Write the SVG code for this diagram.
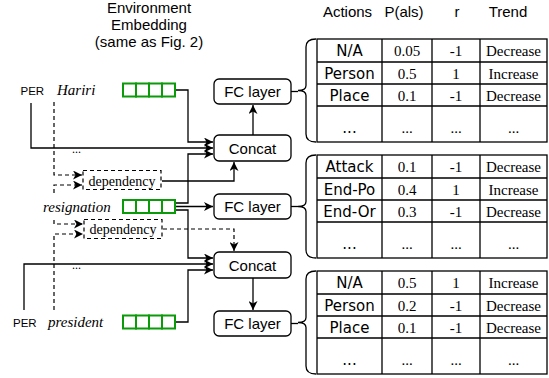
<svg xmlns="http://www.w3.org/2000/svg" width="549" height="378" viewBox="0 0 549 378">
<defs>
<marker id="arr" markerUnits="userSpaceOnUse" markerWidth="10" markerHeight="9" refX="9" refY="4.5" orient="auto">
<path d="M0,0 L9,4.5 L0,9 L2.5,4.5 z" fill="#000"/>
</marker>
<style>
.t{font-family:"Liberation Sans",Arial,sans-serif;font-size:15px;fill:#000}
.per{font-family:"Liberation Sans",Arial,sans-serif;font-size:11.5px;fill:#000}
.it{font-family:"Liberation Serif","Times New Roman",serif;font-style:italic;font-size:15px;fill:#000}
.dep{font-family:"Liberation Serif","Times New Roman",serif;font-size:14px;fill:#000}
.dots{font-family:"Liberation Serif","Times New Roman",serif;font-size:12px;fill:#000}
.c1{font-family:"DejaVu Sans",Verdana,sans-serif;font-size:15px;fill:#000;text-anchor:middle}
.cs{font-family:"Liberation Serif","Times New Roman",serif;font-size:15px;fill:#000;text-anchor:middle}
.box{fill:#fff;stroke:#000;stroke-width:1.3}
.dbox{fill:#fff;stroke:#000;stroke-width:1.2;stroke-dasharray:4 3}
.emb{fill:#fff;stroke:#0a9a0a;stroke-width:2}
.ln{fill:none;stroke:#000;stroke-width:1.3}
.dl{fill:none;stroke:#000;stroke-width:1.2;stroke-dasharray:4 3}
.tb{fill:none;stroke:#000;stroke-width:1.3}
</style>
</defs>
<rect width="549" height="378" fill="#fff"/>

<g id="title">
<text class="t" x="149" y="13" text-anchor="middle">Environment</text>
<text class="t" x="149" y="30" text-anchor="middle">Embedding</text>
<text class="t" x="149" y="47" text-anchor="middle">(same as Fig. 2)</text>
</g>

<g id="headers">
<text class="t" x="347.5" y="17" text-anchor="middle">Actions</text>
<text class="t" x="404" y="17" text-anchor="middle">P(als)</text>
<text class="t" x="457" y="17" text-anchor="middle">r</text>
<text class="t" x="508" y="17" text-anchor="middle">Trend</text>
</g>

<g id="connectors">
<path class="ln" d="M176,90 H188 V142 H213" marker-end="url(#arr)"/>
<path class="ln" d="M31,103 V148 H213" marker-end="url(#arr)"/>
<path class="ln" d="M176,203 H188 V154 H213" marker-end="url(#arr)"/>
<path class="ln" d="M176,206.5 H213" marker-end="url(#arr)"/>
<path class="ln" d="M176,210 H188 V258 H213" marker-end="url(#arr)"/>
<path class="ln" d="M24,310 V264 H213" marker-end="url(#arr)"/>
<path class="ln" d="M176,322 H188 V270 H213" marker-end="url(#arr)"/>
<path class="ln" d="M162,181 H234 V162" marker-end="url(#arr)"/>
<path class="dl" d="M163,229 H234 V251" marker-end="url(#arr)"/>
<path class="ln" d="M253,135 V105" marker-end="url(#arr)"/>
<path class="ln" d="M253,278 V310" marker-end="url(#arr)"/>
<path class="dl" d="M54,102 V175 H82" marker-end="url(#arr)"/>
<path class="dl" d="M54,193 V185 H82" marker-end="url(#arr)"/>
<path class="dl" d="M54,220 V224 H83" marker-end="url(#arr)"/>
<path class="dl" d="M54,310 V234 H83" marker-end="url(#arr)"/>
<path class="ln" d="M291,91.5 H298"/>
<path class="ln" d="M291,206.5 H298"/>
<path class="ln" d="M291,323.5 H298"/>
</g>

<g id="words">
<text class="per" x="20.5" y="95">PER</text>
<text class="it" x="57" y="95">Hariri</text>
<text class="it" x="43" y="212">resignation</text>
<text class="per" x="13" y="327">PER</text>
<text class="it" x="48" y="327">president</text>
<text class="dots" x="72" y="153">...</text>
<text class="dots" x="72" y="269">...</text>
</g>

<g id="emb-hariri">
<rect class="emb" x="123" y="83.5" width="13" height="13"/>
<rect class="emb" x="136" y="83.5" width="13" height="13"/>
<rect class="emb" x="149" y="83.5" width="13" height="13"/>
<rect class="emb" x="162" y="83.5" width="13" height="13"/>
</g>
<g id="emb-resignation">
<rect class="emb" x="123" y="200" width="13" height="13"/>
<rect class="emb" x="136" y="200" width="13" height="13"/>
<rect class="emb" x="149" y="200" width="13" height="13"/>
<rect class="emb" x="162" y="200" width="13" height="13"/>
</g>
<g id="emb-president">
<rect class="emb" x="123" y="315.5" width="13" height="13"/>
<rect class="emb" x="136" y="315.5" width="13" height="13"/>
<rect class="emb" x="149" y="315.5" width="13" height="13"/>
<rect class="emb" x="162" y="315.5" width="13" height="13"/>
</g>

<g id="dep1">
<rect class="dbox" x="83" y="170.5" width="78" height="19"/>
<text class="dep" x="122" y="185.5" text-anchor="middle">dependency</text>
</g>
<g id="dep2">
<rect class="dbox" x="84" y="219.5" width="78" height="19"/>
<text class="dep" x="123" y="234" text-anchor="middle">dependency</text>
</g>

<g id="fc1">
<rect class="box" x="214" y="79" width="77" height="25" rx="5"/>
<text class="t" x="252.5" y="97" text-anchor="middle">FC layer</text>
</g>
<g id="concat1">
<rect class="box" x="214" y="135" width="77" height="26" rx="5"/>
<text class="t" x="252.5" y="153.5" text-anchor="middle">Concat</text>
</g>
<g id="fc2">
<rect class="box" x="214" y="194" width="77" height="25" rx="5"/>
<text class="t" x="252.5" y="212" text-anchor="middle">FC layer</text>
</g>
<g id="concat2">
<rect class="box" x="214" y="252" width="77" height="26" rx="5"/>
<text class="t" x="252.5" y="270.5" text-anchor="middle">Concat</text>
</g>
<g id="fc3">
<rect class="box" x="214" y="311" width="77" height="25" rx="5"/>
<text class="t" x="252.5" y="329" text-anchor="middle">FC layer</text>
</g>

<g id="table1">
<path class="ln" d="M316,39 Q306,39 306,47 V85.5 Q306,90.5 298,90.5 Q306,90.5 306,95.5 V134 Q306,142 316,142"/>
<rect class="tb" x="317" y="39" width="230" height="103"/>
<path class="tb" d="M317,62 H547 M317,84 H547 M317,106 H547 M382,39 V142 M432,39 V142 M480,39 V142"/>
<text class="c1" x="349.5" y="56">N/A</text><text class="cs" x="407" y="56">0.05</text><text class="cs" x="456" y="56">-1</text><text class="cs" x="513.5" y="56">Decrease</text>
<text class="c1" x="349.5" y="78.5">Person</text><text class="cs" x="407" y="78.5">0.5</text><text class="cs" x="456" y="78.5">1</text><text class="cs" x="513.5" y="78.5">Increase</text>
<text class="c1" x="349.5" y="100.5">Place</text><text class="cs" x="407" y="100.5">0.1</text><text class="cs" x="456" y="100.5">-1</text><text class="cs" x="513.5" y="100.5">Decrease</text>
<text class="c1" x="349.5" y="133">...</text><text class="cs" x="407" y="133">...</text><text class="cs" x="456" y="133">...</text><text class="cs" x="513.5" y="133">...</text>
</g>

<g id="table2">
<path class="ln" d="M316,155 Q306,155 306,163 V201.5 Q306,206.5 298,206.5 Q306,206.5 306,211.5 V250 Q306,258 316,258"/>
<rect class="tb" x="317" y="155" width="230" height="103"/>
<path class="tb" d="M317,178 H547 M317,200 H547 M317,222 H547 M382,155 V258 M432,155 V258 M480,155 V258"/>
<text class="c1" x="349.5" y="172">Attack</text><text class="cs" x="407" y="172">0.1</text><text class="cs" x="456" y="172">-1</text><text class="cs" x="513.5" y="172">Decrease</text>
<text class="c1" x="349.5" y="194.5">End-Po</text><text class="cs" x="407" y="194.5">0.4</text><text class="cs" x="456" y="194.5">1</text><text class="cs" x="513.5" y="194.5">Increase</text>
<text class="c1" x="349.5" y="216.5">End-Or</text><text class="cs" x="407" y="216.5">0.3</text><text class="cs" x="456" y="216.5">-1</text><text class="cs" x="513.5" y="216.5">Decrease</text>
<text class="c1" x="349.5" y="249">...</text><text class="cs" x="407" y="249">...</text><text class="cs" x="456" y="249">...</text><text class="cs" x="513.5" y="249">...</text>
</g>

<g id="table3">
<path class="ln" d="M316,271 Q306,271 306,279 V317.5 Q306,322.5 298,322.5 Q306,322.5 306,327.5 V366 Q306,374 316,374"/>
<rect class="tb" x="317" y="271" width="230" height="103"/>
<path class="tb" d="M317,294 H547 M317,316 H547 M317,338 H547 M382,271 V374 M432,271 V374 M480,271 V374"/>
<text class="c1" x="349.5" y="288">N/A</text><text class="cs" x="407" y="288">0.5</text><text class="cs" x="456" y="288">1</text><text class="cs" x="513.5" y="288">Increase</text>
<text class="c1" x="349.5" y="310.5">Person</text><text class="cs" x="407" y="310.5">0.2</text><text class="cs" x="456" y="310.5">-1</text><text class="cs" x="513.5" y="310.5">Decrease</text>
<text class="c1" x="349.5" y="332.5">Place</text><text class="cs" x="407" y="332.5">0.1</text><text class="cs" x="456" y="332.5">-1</text><text class="cs" x="513.5" y="332.5">Decrease</text>
<text class="c1" x="349.5" y="365">...</text><text class="cs" x="407" y="365">...</text><text class="cs" x="456" y="365">...</text><text class="cs" x="513.5" y="365">...</text>
</g>
</svg>
